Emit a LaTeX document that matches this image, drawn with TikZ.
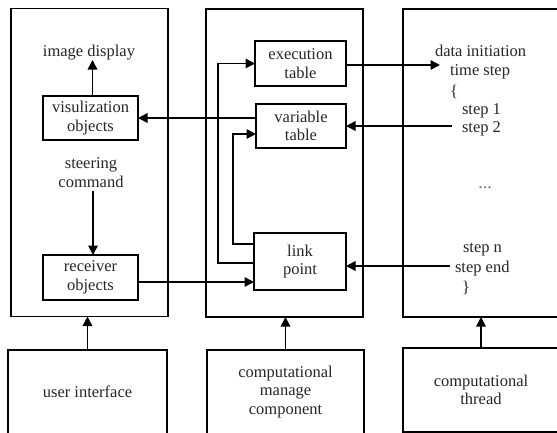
\documentclass[tikz,border=0pt]{standalone}
\usepackage{fontspec}
\setmainfont{Liberation Serif}
\usetikzlibrary{arrows.meta}
\tikzset{
  every node/.style={font=\fontsize{16.5}{18.5}\selectfont, text=black!85},
  ln/.style={line width=1.6pt},
  arr/.style={ln, -{Triangle[length=9.5pt,width=9.5pt]}},
  bigbox/.style={draw, ln, minimum width=157pt, minimum height=308pt, inner sep=0pt, outer sep=0pt},
  basebox/.style={draw, ln, minimum width=158pt, minimum height=84pt, inner sep=0pt, outer sep=0pt, align=center},
  inbox/.style={draw, ln, inner sep=0pt, outer sep=0pt, align=center},
  rt/.style={anchor=west, inner sep=0pt, outer sep=0pt, text height=12pt, text depth=4pt},
  lbl/.style={inner sep=0pt, outer sep=0pt, align=center, text height=12pt, text depth=4pt}
}
\begin{document}
\begin{tikzpicture}[x=1pt,y=-1pt]
\clip (0,0) rectangle (557,432);
\fill[white] (0,0) rectangle (557,432);
% big boxes
\node[bigbox] (lb) at (89.5,162.5) {};
\node[bigbox] (mb) at (284.5,163) {};
\node[bigbox, minimum width=156pt] (rb) at (481,163) {};
% bottom boxes
\node[basebox, minimum width=159pt] (ui) at (87.5,392) {user interface};
\node[basebox, minimum width=157pt] (cmc) at (285.5,392) {computational\\manage\\component};
\node[basebox, minimum width=156pt] (ct) at (481,390) {computational\\thread};
% left inner
\node[lbl] (img) at (89,52) {image display};
\node[inbox, minimum width=95pt, minimum height=44pt] (vis) at (90.5,118) {visulization\\objects};
\node[lbl] (steer) at (91,183) {steering\\command};
\node[inbox, minimum width=95pt, minimum height=45pt] (rec) at (90.5,277.5) {receiver\\objects};
% middle inner
\node[inbox, minimum width=91pt, minimum height=45pt] (exe) at (300.5,63.5) {execution\\table};
\node[inbox, minimum width=90pt, minimum height=44pt] (var) at (301,126) {variable\\table};
\node[inbox, minimum width=92pt, minimum height=57pt] (link) at (300,261.5) {link\\point};
% right texts
\node[rt] (t1) at (435,52) {data initiation};
\node[rt] (t2) at (450,71) {time step};
\node[rt] (t3) at (450,92) {\{};
\node[rt] (t4) at (462,110) {step 1};
\node[rt] (t5) at (462,128) {step 2};
\node[inner sep=0pt, font=\fontsize{18}{18}\selectfont, text=black!55] (t6) at (485,188) {...};
\node[rt] (t7) at (463,248) {step n};
\node[rt] (t8) at (455,268) {step end};
\node[rt] (t9) at (462,288) {\}};
\coordinate (exeEnd) at (440,65);
\coordinate (s2start) at (452,126);
\coordinate (sestart) at (450,266);
% connectors
\draw[arr] (ui.north) -- (ui.north |- lb.south);
\draw[arr] (cmc.north) -- (cmc.north |- mb.south);
\draw[arr] (ct.north) -- (ct.north |- rb.south);
\draw[arr] ([xshift=2pt]vis.north) -- ([xshift=2pt]vis.north |- img.south);
\draw[arr] ([xshift=2pt]steer.south) -- ([xshift=2pt]steer.south |- rec.north);
\draw[arr] (exe.east |- exeEnd) -- (exeEnd);
\draw[arr] (s2start) -- (s2start -| var.east);
\draw[arr] ([yshift=8pt]var.west) -- ([yshift=8pt]var.west -| vis.east);
\draw[arr] ([yshift=-1.5pt]link.west) -- ++(-36,0) |- (exe.west);
\draw[arr] ([yshift=17.5pt]link.west) -- ++(-21,0) |- ([yshift=-8pt]var.west);
\draw[arr] ([yshift=-4.5pt]rec.east) -- ([yshift=-4.5pt]rec.east -| link.west);
\draw[arr] (sestart) -- (sestart -| link.east);
\end{tikzpicture}
\end{document}
